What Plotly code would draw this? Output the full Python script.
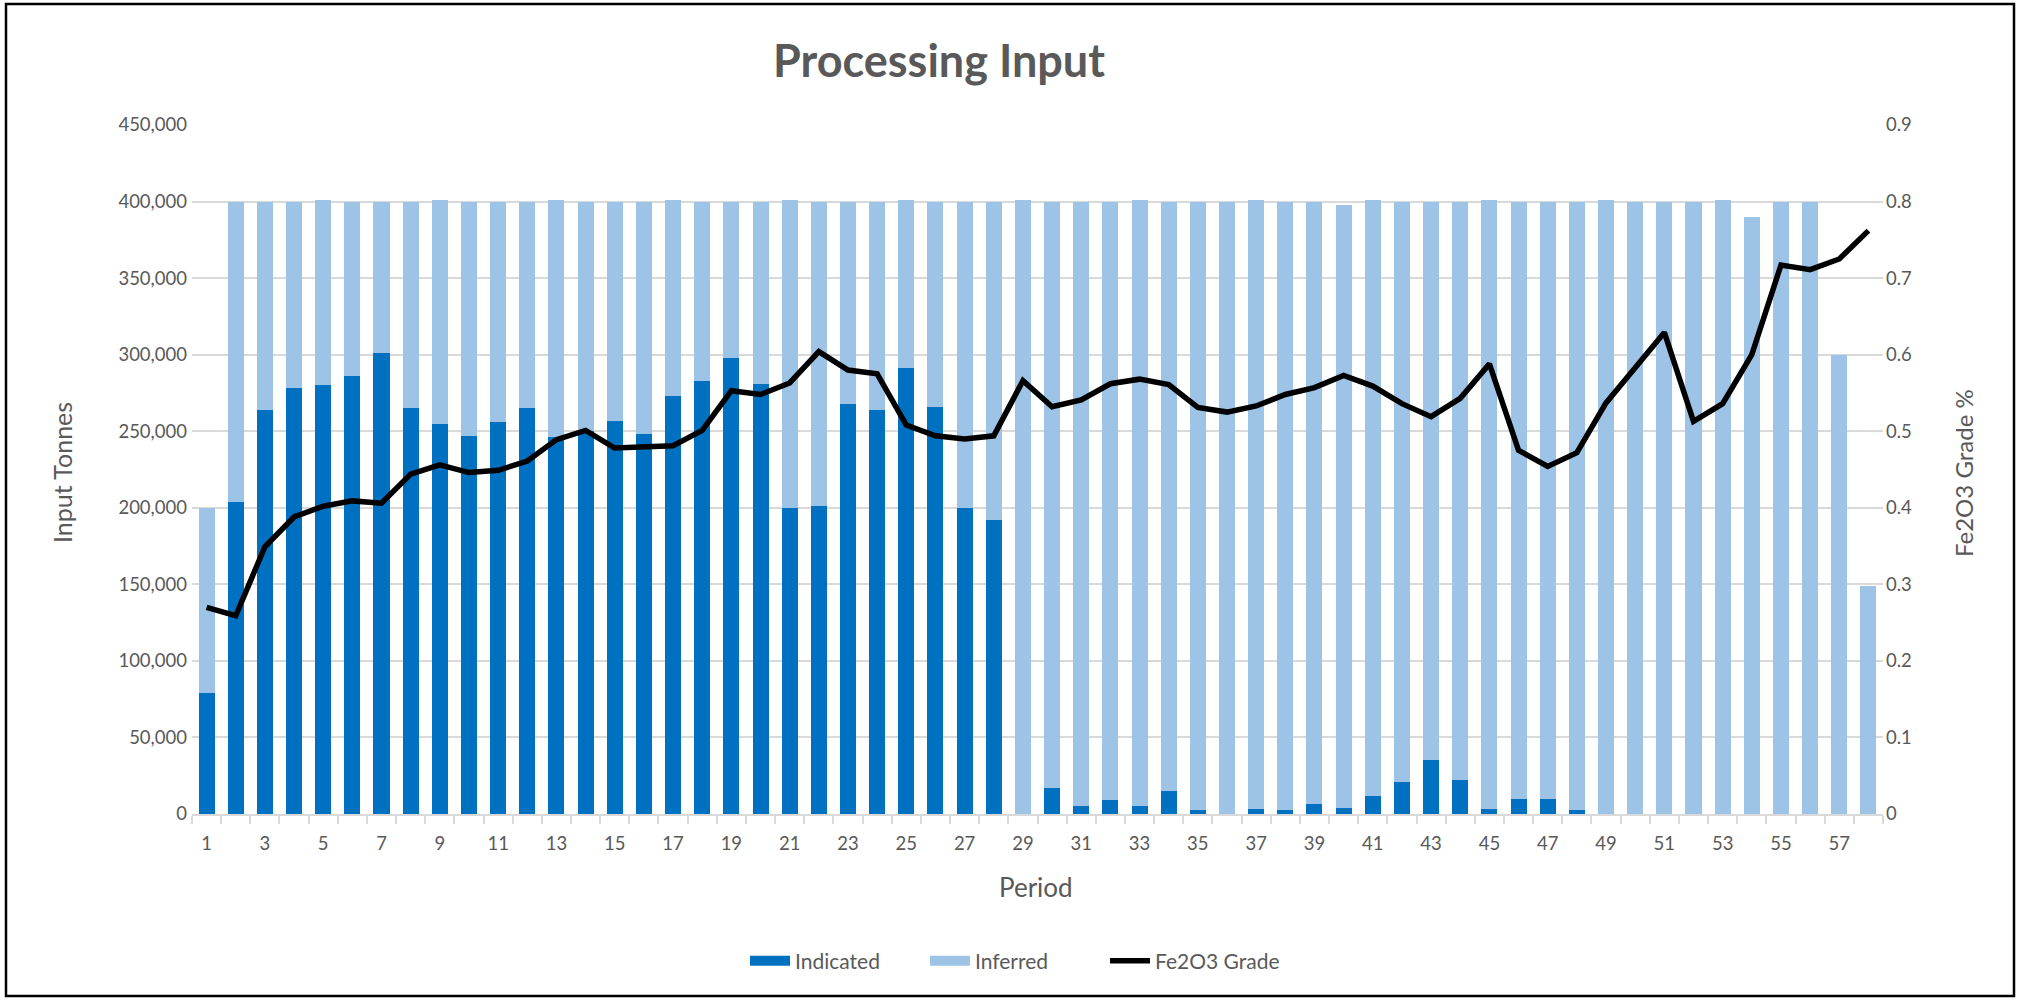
import plotly.graph_objects as go

# Processing schedule by period
periods = list(range(1, 59))

indicated = [
    79000, 204000, 264000, 278000, 280000, 286000, 301000, 265000, 255000, 247000,
    256000, 265000, 246000, 250000, 257000, 248000, 273000, 283000, 298000, 281000,
    200000, 201000, 268000, 264000, 291000, 266000, 200000, 192000, 0, 17000,
    5000, 9000, 5000, 15000, 2500, 0, 3500, 2500, 6500, 4000,
    12000, 21000, 35000, 22000, 3500, 10000, 9500, 2500, 0, 0,
    0, 0, 0, 0, 0, 0, 0, 0,
]

inferred = [
    121000, 196000, 136000, 122000, 121000, 114000, 99000, 135000, 146000, 153000,
    144000, 135000, 155000, 150000, 143000, 152000, 128000, 117000, 102000, 119000,
    201000, 199000, 132000, 136000, 110000, 134000, 200000, 208000, 401000, 383000,
    395000, 391000, 396000, 385000, 397500, 400000, 397500, 397500, 393500, 394000,
    389000, 379000, 365000, 378000, 397500, 390000, 390500, 397500, 401000, 400000,
    400000, 400000, 401000, 390000, 400000, 400000, 300000, 149000,
]

fe2o3_grade = [
    0.270, 0.259, 0.349, 0.388, 0.402, 0.409, 0.406, 0.444, 0.456, 0.446,
    0.449, 0.461, 0.489, 0.501, 0.478, 0.479, 0.481, 0.501, 0.553, 0.548,
    0.563, 0.604, 0.580, 0.575, 0.508, 0.494, 0.490, 0.494, 0.566, 0.532,
    0.541, 0.562, 0.568, 0.561, 0.531, 0.525, 0.533, 0.548, 0.557, 0.573,
    0.559, 0.536, 0.519, 0.543, 0.588, 0.475, 0.454, 0.472, 0.537, 0.583,
    0.629, 0.513, 0.536, 0.600, 0.717, 0.711, 0.725, 0.762,
]

x_tick_labels = [str(p) for p in range(1, 58, 2)]

FONT = "Lato, 'Open Sans', sans-serif"
GREY = "#595959"
DARK_BLUE = "#0070C0"
LIGHT_BLUE = "#9DC3E6"
TICK_SIZE = 18.5

fig = go.Figure()
fig.add_trace(go.Bar(x=periods, y=indicated, name="Indicated",
                     legendgroup="ind", showlegend=False,
                     marker=dict(color=DARK_BLUE, line=dict(width=0))))
fig.add_trace(go.Bar(x=periods, y=inferred, name="Inferred",
                     legendgroup="inf", showlegend=False,
                     marker=dict(color=LIGHT_BLUE, line=dict(width=0))))
# Wide rectangular legend keys for the bar series
fig.add_trace(go.Scatter(x=[None], y=[None], name="Indicated", legendgroup="ind",
                         mode="lines", line=dict(color=DARK_BLUE, width=15)))
fig.add_trace(go.Scatter(x=[None], y=[None], name="Inferred", legendgroup="inf",
                         mode="lines", line=dict(color=LIGHT_BLUE, width=15)))
fig.add_trace(go.Scatter(x=periods, y=fe2o3_grade, name="Fe2O3 Grade",
                         mode="lines", yaxis="y2",
                         line=dict(color="#000000", width=5.5)))

# Plot area in pixels
L, R, T, B = 192, 139, 125, 186
W, H = 2022 - L - R, 1000 - T - B


def px_x(p):
    return (p - L) / W


def px_y(p):
    return (1000 - B - p) / H


fig.update_layout(
    width=2022, height=1000,
    margin=dict(l=L, r=R, t=T, b=B),
    paper_bgcolor="white", plot_bgcolor="white",
    barmode="stack", bargap=0.45,
    font=dict(family=FONT, color=GREY, size=TICK_SIZE),
    title=dict(text="<b>Processing Input</b>", x=939 / 2022, y=1 - 61 / 1000,
               xanchor="center", yanchor="middle",
               font=dict(family=FONT, size=45, color=GREY)),
    xaxis=dict(
        range=[0.5, 58.5],
        tickmode="array", tickvals=list(range(1, 58, 2)), ticktext=x_tick_labels,
        ticks="outside", ticklen=12, tickcolor="rgba(0,0,0,0)",
        showgrid=False, zeroline=False,
        showline=True, linecolor="#D9D9D9", linewidth=2,
        minor=dict(tickmode="linear", tick0=0.5, dtick=1, ticks="outside",
                   ticklen=8, tickcolor="#D9D9D9", tickwidth=2, showgrid=False),
        tickfont=dict(size=TICK_SIZE, color=GREY),
    ),
    yaxis=dict(
        range=[0, 450000], dtick=50000, tickformat=",",
        showgrid=True, gridcolor="#D9D9D9", gridwidth=2,
        zeroline=False, showline=False, ticks="",
        ticklabelstandoff=4,
        tickfont=dict(size=TICK_SIZE, color=GREY),
    ),
    yaxis2=dict(
        range=[0, 0.9], dtick=0.1, overlaying="y", side="right",
        showgrid=False, zeroline=False, showline=False, ticks="",
        ticklabelstandoff=2,
        tickfont=dict(size=TICK_SIZE, color=GREY),
    ),
    legend=dict(orientation="h", x=px_x(1015), y=px_y(961),
                xanchor="center", yanchor="middle",
                font=dict(size=21, color=GREY), traceorder="normal",
                itemwidth=40, entrywidth=125, entrywidthmode="pixels"),
    showlegend=True,
)

# Axis titles
fig.add_annotation(text="Input Tonnes", x=px_x(62), y=px_y(473),
                   xref="paper", yref="paper", textangle=-90, showarrow=False,
                   xanchor="center", yanchor="middle",
                   font=dict(size=25, color=GREY))
fig.add_annotation(text="Fe2O3 Grade %", x=px_x(1963), y=px_y(473),
                   xref="paper", yref="paper", textangle=-90, showarrow=False,
                   xanchor="center", yanchor="middle",
                   font=dict(size=24, color=GREY))
fig.add_annotation(text="Period", x=px_x(1036), y=px_y(887),
                   xref="paper", yref="paper", showarrow=False,
                   xanchor="center", yanchor="middle",
                   font=dict(size=26, color=GREY))

# Chart frame
fig.add_shape(type="rect", xref="paper", yref="paper",
              x0=px_x(6), x1=px_x(2014), y0=px_y(996), y1=px_y(4),
              line=dict(color="#000000", width=2.5), fillcolor="rgba(0,0,0,0)")

fig.write_html("out.html")
